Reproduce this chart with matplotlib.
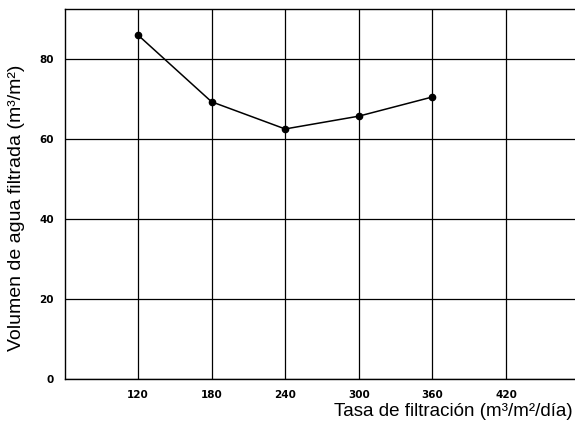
import matplotlib.pyplot as plt

# Filtration rate vs filtered water volume
rate = [120, 180, 240, 300, 360]
volume = [86, 69.3, 62.5, 65.7, 70.5]
x_ticks = [120, 180, 240, 300, 360, 420]
y_ticks = [0, 20, 40, 60, 80]

fig = plt.figure(figsize=(5.75, 4.3), dpi=100)
ax = fig.add_axes([0.113, 0.119, 0.887, 0.86])

ax.plot(rate, volume, color="black", linewidth=1.1, marker="o",
        markersize=4.5, markerfacecolor="black", zorder=3)

ax.set_xlim(60.5, 476.3)
ax.set_ylim(0, 92.5)
ax.set_xticks(x_ticks)
ax.set_yticks(y_ticks)
ax.set_xticklabels([str(v) for v in x_ticks], fontsize=7.5, fontweight="bold")
ax.set_yticklabels([str(v) for v in y_ticks], fontsize=7.5, fontweight="bold")
ax.tick_params(length=0, pad=8)
ax.grid(True, color="black", linewidth=0.9)

ax.spines["right"].set_visible(False)
for side in ["left", "top", "bottom"]:
    ax.spines[side].set_linewidth(1.0)

fig.text(0.995, 0.042, "Tasa de filtración (m³/m²/día)", ha="right",
         va="center", fontsize=13.5, family="Liberation Sans")
fig.text(0.029, 0.516, "Volumen de agua filtrada (m³/m²)", ha="center",
         va="center", rotation=90, fontsize=14, family="Liberation Sans")

fig.savefig("out.png", dpi=100)
